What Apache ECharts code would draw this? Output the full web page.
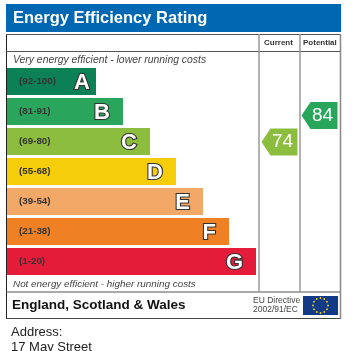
<!DOCTYPE html>
<html><head><meta charset="utf-8">
<style>html,body{margin:0;padding:0;background:#fff;overflow:hidden}#c{width:352px;height:351px}</style>
<script src="https://cdn.jsdelivr.net/npm/echarts@6/dist/echarts.min.js"></script>
</head><body><div id="c"></div>
<script>
const bandLetters = ['A','B','C','D','E','F','G'];
const bandRanges = ['(92-100)','(81-91)','(69-80)','(55-68)','(39-54)','(21-38)','(1-20)'];
const barLengths = [89,116,143,169,196,222,249];
const bandColors = ['#0c8158','#2aa65c','#8dbd3e','#f6cd0b','#f2a968','#ef8023','#e41c3a'];
const scoreColumns = ['Current','Potential'];
const scoreValues = [74,84];
const scoreColors = ['#8dbd3e','#2aa65c'];
const titleText = 'Energy Efficiency Rating';
const topNote = 'Very energy efficient - lower running costs';
const bottomNote = 'Not energy efficient - higher running costs';
const footerText = 'England, Scotland & Wales';
const directive = ['EU Directive','2002/91/EC'];
const addressLines = ['Address:','17 May Street'];

const F = '"Liberation Sans", Arial, sans-serif';
const arrow = 'path://M0,13.5 L9,0 L36,0 L36,27 L9,27 Z';
const chart = echarts.init(document.getElementById('c'), null, {renderer:'canvas'});
const stars = [];
for (let i=0;i<12;i++){
  const a = i/12*Math.PI*2;
  stars.push({type:'circle',z:6,shape:{cx:320.5+Math.sin(a)*7.5,cy:305.5-Math.cos(a)*7.5,r:0.9},style:{fill:'#f5d21e'}});
}
const txt=(x,y,text,font,fill,extra)=>({type:'text',z:5,x,y,style:Object.assign({x:0,y:0,text,font,fill,textVerticalAlign:'middle'},extra||{})});
chart.setOption({
  animation:false,
  backgroundColor:'#fff',
  grid:[
    {left:7,top:66.5,width:300,height:210},
    {left:259.5,top:66.5,width:80,height:210}
  ],
  xAxis:[
    {gridIndex:0,type:'value',min:0,max:300,show:false},
    {gridIndex:1,type:'category',data:scoreColumns,show:false}
  ],
  yAxis:[
    {gridIndex:0,type:'category',inverse:true,data:bandLetters,show:false},
    {gridIndex:1,type:'value',min:23.25,max:102.49,show:false}
  ],
  series:[
    {type:'bar',xAxisIndex:0,yAxisIndex:0,barWidth:27,barGap:'-100%',
     data:barLengths.map((v,i)=>({value:v,itemStyle:{color:bandColors[i]},label:{distance:i===0?6:13}})),
     label:{show:true,position:'insideRight',offset:[0,1],formatter:p=>bandLetters[p.dataIndex],
       fontFamily:F,fontWeight:'bold',fontSize:22,color:'#fff',textBorderColor:'#333',textBorderWidth:2.2}},
    {type:'bar',xAxisIndex:0,yAxisIndex:0,barWidth:27,barGap:'-100%',
     data:barLengths.map(v=>v),itemStyle:{color:'transparent'},
     label:{show:true,position:'insideLeft',distance:12,formatter:p=>bandRanges[p.dataIndex],
       fontFamily:F,fontWeight:'bold',fontSize:9.8,color:'#333'}},
    {type:'scatter',xAxisIndex:1,yAxisIndex:1,symbol:arrow,symbolSize:[36,27],symbolKeepAspect:false,
     data:scoreValues.map((v,i)=>({value:[scoreColumns[i],v],itemStyle:{color:scoreColors[i],opacity:1}})),
     label:{show:true,position:'inside',offset:[3,0],formatter:p=>scoreValues[p.dataIndex],fontFamily:F,fontSize:19,color:'#fff'}}
  ],
  graphic:[
    {type:'rect',z:1,shape:{x:6,y:4,width:335,height:28},style:{fill:'#0068b3'}},
    txt(13,18,titleText,'bold 16.5px '+F,'#fff'),
    {type:'line',z:2,shape:{x1:6.5,y1:34,x2:6.5,y2:319},style:{stroke:'#222',lineWidth:1}},
    {type:'line',z:2,shape:{x1:6,y1:34.5,x2:341,y2:34.5},style:{stroke:'#555',lineWidth:1}},
    {type:'line',z:2,shape:{x1:6,y1:51.5,x2:341,y2:51.5},style:{stroke:'#555',lineWidth:1}},
    {type:'line',z:2,shape:{x1:6,y1:292,x2:341,y2:292},style:{stroke:'#555',lineWidth:1}},
    {type:'line',z:2,shape:{x1:6,y1:318.5,x2:341,y2:318.5},style:{stroke:'#444',lineWidth:1}},
    {type:'line',z:2,shape:{x1:340.5,y1:34,x2:340.5,y2:319},style:{stroke:'#888',lineWidth:1.5}},
    {type:'line',z:2,shape:{x1:259,y1:34,x2:259,y2:292},style:{stroke:'#999',lineWidth:1.5}},
    {type:'line',z:2,shape:{x1:300,y1:34,x2:300,y2:292},style:{stroke:'#999',lineWidth:1.5}},
    txt(264,43,scoreColumns[0],'bold 8px '+F,'#333'),
    txt(303,43,scoreColumns[1],'bold 8px '+F,'#333'),
    txt(13,60,topNote,'italic 10.4px '+F,'#444'),
    txt(13,284,bottomNote,'italic 9.9px '+F,'#444'),
    txt(12,305,footerText,'bold 13.5px '+F,'#111'),
    txt(253,301,directive[0],'8.5px '+F,'#444'),
    txt(253,310,directive[1],'8.5px '+F,'#444'),
    {type:'rect',z:4,shape:{x:303,y:296,width:35,height:19},style:{fill:'#123a86'}},
    ...stars,
    txt(11,332.5,addressLines[0],'13px '+F,'#222'),
    txt(11,347.5,addressLines[1],'13px '+F,'#222')
  ]
});
</script></body></html>
